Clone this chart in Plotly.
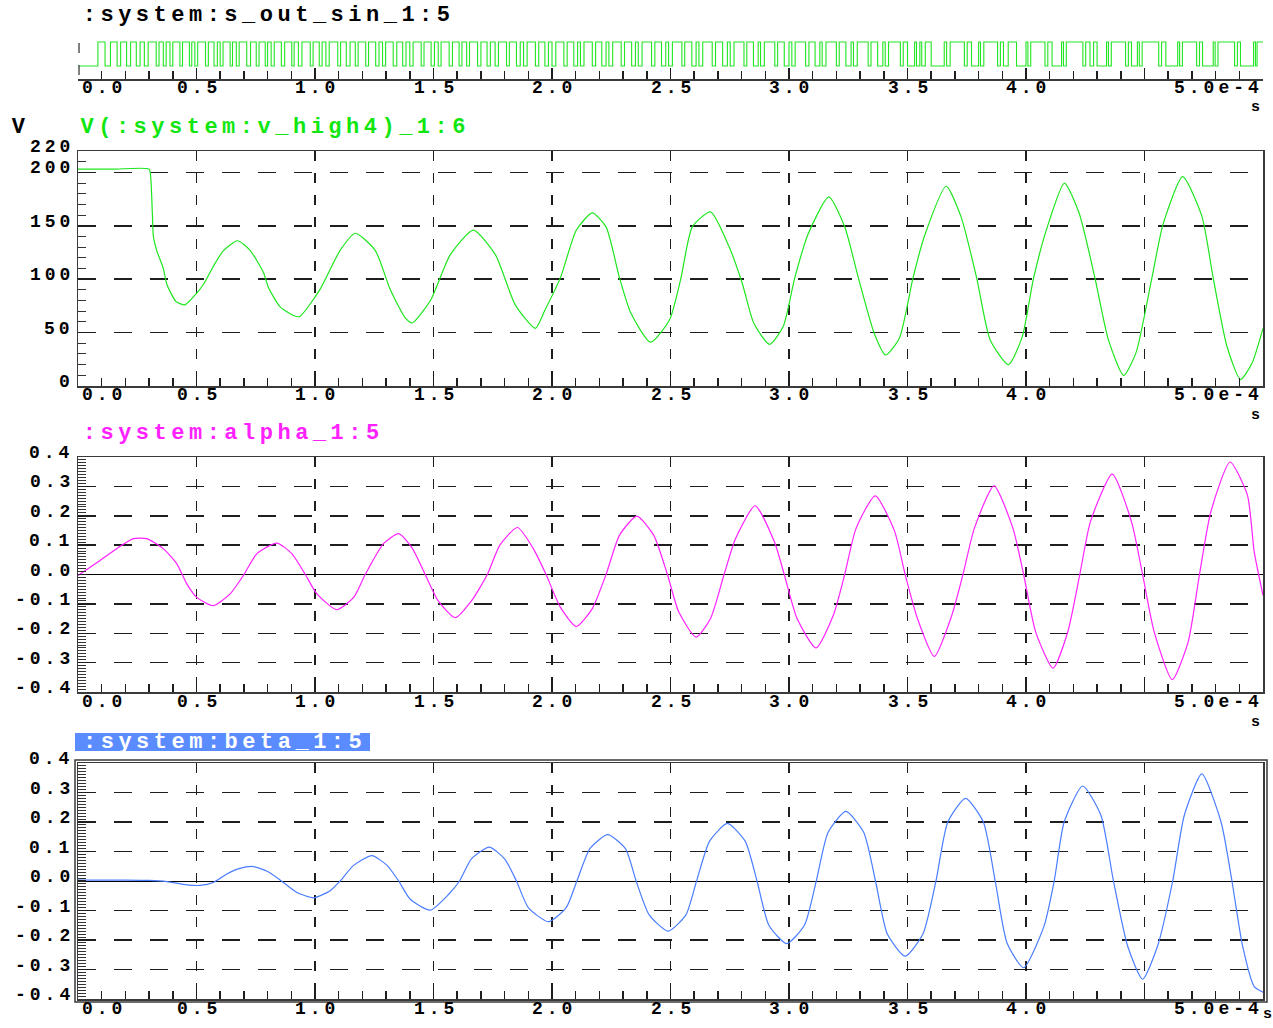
import plotly.graph_objects as go

# ---------------- data (time in units of 1e-4 s) ----------------
# PWM switching signal: toggle instants, first is a rising edge
pwm_edges = [
    0.084, 0.114, 0.137, 0.165, 0.180, 0.205, 0.222, 0.246, 0.262, 0.280,
    0.296, 0.330, 0.342, 0.360, 0.372, 0.388, 0.400, 0.430, 0.441, 0.470,
    0.480, 0.493, 0.505, 0.538, 0.550, 0.574, 0.588, 0.600, 0.612, 0.642,
    0.652, 0.668, 0.680, 0.712, 0.728, 0.752, 0.764, 0.790, 0.800, 0.815,
    0.828, 0.858, 0.872, 0.902, 0.912, 0.930, 0.945, 0.980, 0.992, 1.018,
    1.030, 1.046, 1.060, 1.096, 1.108, 1.132, 1.148, 1.170, 1.182, 1.214,
    1.226, 1.256, 1.270, 1.285, 1.298, 1.330, 1.345, 1.370, 1.384, 1.400,
    1.414, 1.448, 1.460, 1.490, 1.504, 1.520, 1.532, 1.566, 1.580, 1.608,
    1.620, 1.640, 1.652, 1.686, 1.700, 1.726, 1.740, 1.760, 1.774, 1.808,
    1.820, 1.850, 1.866, 1.880, 1.895, 1.930, 1.944, 1.970, 1.985, 2.000,
    2.016, 2.050, 2.064, 2.092, 2.108, 2.120, 2.135, 2.170, 2.184, 2.210,
    2.228, 2.240, 2.256, 2.292, 2.306, 2.336, 2.352, 2.364, 2.380, 2.420,
    2.434, 2.462, 2.480, 2.492, 2.508, 2.548, 2.560, 2.590, 2.608, 2.620,
    2.636, 2.676, 2.690, 2.720, 2.740, 2.752, 2.768, 2.810, 2.822, 2.850,
    2.870, 2.880, 2.896, 2.940, 2.952, 2.980, 3.000, 3.012, 3.026, 3.070,
    3.084, 3.110, 3.130, 3.140, 3.156, 3.200, 3.212, 3.240, 3.262, 3.272,
    3.288, 3.334, 3.346, 3.374, 3.396, 3.406, 3.420, 3.470, 3.482, 3.500,
    3.530, 3.538, 3.552, 3.560, 3.575, 3.600, 3.655, 3.665, 3.680, 3.740,
    3.752, 3.770, 3.800, 3.808, 3.822, 3.880, 3.892, 3.905, 3.925, 3.960,
    4.000, 4.008, 4.020, 4.080, 4.092, 4.110, 4.150, 4.158, 4.170, 4.240,
    4.252, 4.270, 4.285, 4.300, 4.340, 4.348, 4.360, 4.420, 4.432, 4.445,
    4.470, 4.478, 4.490, 4.560, 4.572, 4.590, 4.640, 4.648, 4.660, 4.720,
    4.732, 4.745, 4.790, 4.798, 4.810, 4.880, 4.892, 4.905, 4.960, 4.968,
    4.975,
]

v_t = [0.0, 0.150, 0.300, 0.307, 0.314, 0.318, 0.332, 0.360, 0.375, 0.414,
       0.452, 0.501, 0.529, 0.571, 0.611, 0.673, 0.726, 0.783, 0.804, 0.853,
       0.909, 0.935, 1.020, 1.106, 1.170, 1.254, 1.318, 1.380, 1.410, 1.487,
       1.571, 1.668, 1.761, 1.845, 1.930, 1.970, 2.035, 2.103, 2.170, 2.228,
       2.285, 2.333, 2.416, 2.496, 2.544, 2.592, 2.669, 2.746, 2.803, 2.851,
       2.918, 2.976, 3.024, 3.082, 3.168, 3.235, 3.293, 3.360, 3.408, 3.466,
       3.523, 3.571, 3.663, 3.725, 3.792, 3.849, 3.926, 3.984, 4.032, 4.090,
       4.162, 4.224, 4.291, 4.348, 4.412, 4.464, 4.531, 4.579, 4.661, 4.742,
       4.790, 4.848, 4.905, 4.953, 5.000]
v_val = [203, 203, 203, 195, 160, 140, 127, 110, 95, 79,
         76, 87, 95, 112, 126, 136, 127, 106, 92, 74,
         66, 65, 90, 127, 143, 127, 90, 64, 59, 80,
         123, 146, 123, 76, 54, 71, 101, 146, 162, 149,
         101, 68, 41, 62, 101, 149, 163, 131, 96, 59,
         39, 56, 101, 143, 177, 149, 101, 49, 29, 45,
         101, 140, 187, 159, 101, 43, 20, 46, 101, 149,
         190, 162, 101, 43, 10, 31, 101, 152, 196, 159,
         101, 37, 6, 21, 54]

alpha_t = [0.0, 0.093, 0.163, 0.234, 0.290, 0.360, 0.417, 0.459, 0.501, 0.571,
           0.642, 0.698, 0.755, 0.839, 0.902, 0.959, 1.008, 1.092, 1.163, 1.212,
           1.289, 1.353, 1.410, 1.465, 1.520, 1.592, 1.660, 1.727, 1.780, 1.854,
           1.920, 1.975, 2.035, 2.103, 2.170, 2.228, 2.285, 2.358, 2.429, 2.487,
           2.535, 2.608, 2.669, 2.726, 2.775, 2.857, 2.938, 2.980, 3.034, 3.114,
           3.187, 3.235, 3.283, 3.364, 3.446, 3.490, 3.542, 3.613, 3.687, 3.734,
           3.782, 3.865, 3.945, 3.990, 4.041, 4.114, 4.176, 4.227, 4.272, 4.364,
           4.445, 4.492, 4.541, 4.617, 4.684, 4.732, 4.780, 4.861, 4.934, 4.963,
           5.000]
alpha_val = [-0.003, 0.048, 0.088, 0.122, 0.122, 0.088, 0.036, -0.032, -0.078, -0.106,
             -0.066, -0.003, 0.071, 0.107, 0.071, 0.000, -0.066, -0.120, -0.078, 0.000,
             0.105, 0.139, 0.090, 0.000, -0.090, -0.147, -0.090, 0.000, 0.100, 0.160,
             0.090, 0.000, -0.111, -0.177, -0.116, 0.000, 0.134, 0.199, 0.134, 0.000,
             -0.128, -0.213, -0.150, 0.000, 0.123, 0.234, 0.112, 0.000, -0.150, -0.250,
             -0.139, 0.000, 0.157, 0.268, 0.146, 0.000, -0.150, -0.279, -0.139, 0.000,
             0.157, 0.302, 0.157, 0.000, -0.196, -0.319, -0.196, 0.000, 0.180, 0.342,
             0.180, 0.000, -0.196, -0.358, -0.230, 0.000, 0.214, 0.383, 0.271, 0.077,
             -0.071]

beta_t = [0.0, 0.100, 0.200, 0.300, 0.375, 0.459, 0.515, 0.571, 0.628, 0.680,
          0.740, 0.800, 0.867, 0.924, 0.994, 1.064, 1.106, 1.163, 1.240, 1.304,
          1.353, 1.402, 1.486, 1.564, 1.610, 1.660, 1.735, 1.800, 1.850, 1.900,
          1.985, 2.060, 2.105, 2.160, 2.235, 2.310, 2.355, 2.410, 2.490, 2.565,
          2.610, 2.665, 2.740, 2.815, 2.865, 2.915, 2.990, 3.065, 3.115, 3.165,
          3.240, 3.315, 3.365, 3.415, 3.490, 3.565, 3.620, 3.670, 3.745, 3.820,
          3.870, 3.920, 3.990, 4.076, 4.119, 4.161, 4.239, 4.316, 4.369, 4.429,
          4.492, 4.555, 4.619, 4.668, 4.742, 4.823, 4.869, 4.914, 4.963, 5.000]
beta_val = [0.003, 0.003, 0.003, 0.002, -0.002, -0.013, -0.015, -0.005, 0.024, 0.042,
            0.049, 0.032, -0.005, -0.039, -0.057, -0.033, 0.000, 0.053, 0.086, 0.053,
            0.000, -0.062, -0.099, -0.045, 0.000, 0.075, 0.115, 0.075, 0.000, -0.090,
            -0.138, -0.090, 0.000, 0.110, 0.157, 0.110, 0.000, -0.115, -0.170, -0.115,
            0.000, 0.135, 0.195, 0.135, 0.000, -0.150, -0.212, -0.150, 0.000, 0.165,
            0.236, 0.165, 0.000, -0.180, -0.255, -0.180, 0.000, 0.200, 0.280, 0.200,
            0.000, -0.210, -0.294, -0.153, 0.000, 0.200, 0.322, 0.223, 0.000, -0.221,
            -0.333, -0.221, 0.000, 0.223, 0.363, 0.200, 0.000, -0.221, -0.358, -0.377]

x_major_ticks = [0.0, 0.5, 1.0, 1.5, 2.0, 2.5, 3.0, 3.5, 4.0, 4.5, 5.0]
x_label_vals = [0.5, 1.0, 1.5, 2.0, 2.5, 3.0, 3.5, 4.0]
x_label_text = ["0.5", "1.0", "1.5", "2.0", "2.5", "3.0", "3.5", "4.0"]
x_first_label = "0.0"
x_last_label = "5.0e-4"
x_unit = "s"
v_tick_vals = [0, 50, 100, 150, 200, 220]
v_tick_text = ["0", "50", "100", "150", "200", "220"]
ab_tick_vals = [-0.4, -0.3, -0.2, -0.1, 0.0, 0.1, 0.2, 0.3, 0.4]
ab_tick_text = ["-0.4", "-0.3", "-0.2", "-0.1", "0.0", "0.1", "0.2", "0.3", "0.4"]

titles = [":system:s_out_sin_1:5", "V(:system:v_high4)_1:6",
          ":system:alpha_1:5", ":system:beta_1:5"]
v_unit = "V"

# ---------------- layout helpers ----------------
W, H = 1273, 1028
def px(x):
    return x / W
def py(y):
    return 1 - y / H

FONT = "Liberation Mono, Courier New, monospace"
GRID = "#1e1e1e"
FRAME = "#3a3a3a"
c_pwm = "#22e622"
c_v = "#1ee61e"
c_alpha = "#ff22ff"
c_beta = "#4a7dff"

TICK_SIZE, TICK_SP = 18, 4.0        # font size, letter spacing (px)
TITLE_SIZE, TITLE_SP = 22, 4.5
UNIT_SIZE = 15                      # unit "s" below the axes, no extra spacing
def pitch(size, sp):
    return 0.6 * size + sp
def text_w(n, size, sp):
    return n * pitch(size, sp) - sp

fig = go.Figure()

# PWM trace (step)
pwm_x, pwm_y = [0.0], [0]
state = 0
for e in pwm_edges:
    state = 1 - state
    pwm_x.append(e)
    pwm_y.append(state)
pwm_x.append(5.0)
pwm_y.append(state)
fig.add_trace(go.Scatter(x=pwm_x, y=pwm_y, mode="lines", xaxis="x", yaxis="y",
                         line=dict(color=c_pwm, width=1.1, shape="hv"),
                         hoverinfo="skip"))
fig.add_trace(go.Scatter(x=v_t, y=v_val, mode="lines", xaxis="x2", yaxis="y2",
                         line=dict(color=c_v, width=1.2, shape="spline", smoothing=0.6),
                         hoverinfo="skip"))
fig.add_trace(go.Scatter(x=alpha_t, y=alpha_val, mode="lines", xaxis="x3", yaxis="y3",
                         line=dict(color=c_alpha, width=1.2, shape="spline", smoothing=0.6),
                         hoverinfo="skip"))
fig.add_trace(go.Scatter(x=beta_t, y=beta_val, mode="lines", xaxis="x4", yaxis="y4",
                         line=dict(color=c_beta, width=1.2, shape="spline", smoothing=0.6),
                         hoverinfo="skip"))

tickfont = dict(family=FONT, size=TICK_SIZE, color="black", weight="bold")
unitfont = dict(family=FONT, size=UNIT_SIZE, color="black", weight="bold")

def xaxis(anchor, top_panel=False):
    d = dict(anchor=anchor, domain=[px(78), px(1263)], range=[0, 5.0],
             tickmode="array", tickvals=x_major_ticks, showticklabels=False,
             ticks="inside", ticklen=11, tickwidth=1.5,
             tickcolor=GRID, showline=True, linewidth=1.5, linecolor=FRAME,
             zeroline=False, fixedrange=True,
             minor=dict(dtick=0.1, tick0=0, ticks="inside", ticklen=8,
                        tickwidth=1.5, tickcolor=GRID, showgrid=False))
    if top_panel:
        d.update(showgrid=False, mirror=False, linewidth=2)
    else:
        d.update(showgrid=True, gridcolor=GRID, gridwidth=1.5,
                 griddash="10px,12px", mirror=True)
    return d

def yaxis(anchor, dom, rng, vals, minor_dtick, zero):
    return dict(anchor=anchor, domain=dom, range=rng, tickmode="array",
                tickvals=vals, showticklabels=False,
                ticks="inside", ticklen=8, tickwidth=1.5, tickcolor=GRID,
                showline=True, mirror=True, linewidth=1.5, linecolor=FRAME,
                showgrid=True, gridcolor=GRID, gridwidth=1.5, griddash="18px,18px",
                zeroline=zero, zerolinecolor="black", zerolinewidth=1,
                fixedrange=True,
                minor=dict(dtick=minor_dtick, tick0=0, ticks="inside", ticklen=8,
                           tickwidth=1, tickcolor="#333", showgrid=False))

fig.update_layout(
    width=W, height=H, margin=dict(l=0, r=0, t=0, b=0, pad=0),
    paper_bgcolor="white", plot_bgcolor="white", showlegend=False,
    hovermode=False,
    xaxis=xaxis("y", top_panel=True),
    yaxis=dict(anchor="x", domain=[py(79), py(38)], range=[-0.5417, 1.1667],
               showgrid=False, zeroline=False, showticklabels=False,
               showline=False, ticks="", fixedrange=True),
    xaxis2=xaxis("y2"),
    yaxis2=yaxis("x2", [py(386), py(151)], [0, 220], v_tick_vals, 10, False),
    xaxis3=xaxis("y3"),
    yaxis3=yaxis("x3", [py(692), py(457)], [-0.4, 0.4], ab_tick_vals, 0.01, True),
    xaxis4=xaxis("y4"),
    yaxis4=yaxis("x4", [py(999), py(763)], [-0.4, 0.4], ab_tick_vals, 0.01, True),
)

# selection frame around last panel and title highlight box
fig.add_shape(type="rect", xref="paper", yref="paper",
              x0=px(75), x1=px(1267), y0=py(1002), y1=py(760),
              line=dict(color=FRAME, width=1.5), fillcolor="rgba(0,0,0,0)", layer="above")
fig.add_shape(type="rect", xref="paper", yref="paper",
              x0=px(75), x1=px(370), y0=py(751), y1=py(733),
              line=dict(width=0), fillcolor="#5b8cff", layer="below")
# short marks on the left edge of the switching-signal strip
for y_lo, y_hi in [(43, 53), (65, 75)]:
    fig.add_shape(type="line", xref="paper", yref="paper",
                  x0=px(79), x1=px(79), y0=py(y_hi), y1=py(y_lo),
                  line=dict(color="#555", width=1.5))

ann = []
def add_text(txt, cx_px, cy_px, font, sp):
    # cx_px: visual centre; compensate the trailing letter spacing
    ann.append(dict(text=txt, x=px(cx_px + sp / 2), y=py(cy_px), xref="paper", yref="paper",
                    xanchor="center", yanchor="middle", showarrow=False, font=font))

titlefont = dict(family=FONT, size=TITLE_SIZE, weight="bold")
title_specs = [(83, 16, "black"), (80, 127, "#11e611"), (83, 433, "#ff22ff"), (83, 742, "white")]
for txt, (left, cy, col) in zip(titles, title_specs):
    cx = left + text_w(len(txt), TITLE_SIZE, TITLE_SP) / 2
    add_text(txt, cx, cy, dict(titlefont, color=col), TITLE_SP)
add_text(v_unit, 18.5, 127, dict(titlefont, color="black"), TITLE_SP)

# x-axis labels (below each panel)
panels = [("x", 88, 1255, 108), ("x2", 395, 1255, 415), ("x3", 702, 1255, 722),
          ("x4", 1009, 1267, 1014)]
for xref, ylab, xunit, yunit in panels:
    for v, t in zip(x_label_vals, x_label_text):
        ann.append(dict(text=t, x=v, y=py(ylab), xref=xref, yref="paper",
                        xshift=TICK_SP / 2, xanchor="center", yanchor="middle",
                        showarrow=False, font=tickfont))
    add_text(x_first_label, 82 + text_w(len(x_first_label), TICK_SIZE, TICK_SP) / 2,
             ylab, tickfont, TICK_SP)
    add_text(x_last_label, 1259 - text_w(len(x_last_label), TICK_SIZE, TICK_SP) / 2,
             ylab, tickfont, TICK_SP)
    add_text(x_unit, xunit, yunit, unitfont, 0)

# y-axis labels (right aligned at x = 70, sitting ~4px above the tick)
for yref, vals, texts in [("y2", v_tick_vals, v_tick_text),
                          ("y3", ab_tick_vals, ab_tick_text),
                          ("y4", ab_tick_vals, ab_tick_text)]:
    for v, t in zip(vals, texts):
        w = text_w(len(t), TICK_SIZE, TICK_SP)
        cx = 70 - w / 2
        ann.append(dict(text=t, x=px(cx + TICK_SP / 2), y=v, xref="paper", yref=yref,
                        yshift=4, xanchor="center", yanchor="middle",
                        showarrow=False, font=tickfont))

fig.update_layout(annotations=ann)

post = """
var st = document.createElement('style');
st.innerHTML = 'html,body{margin:0;padding:0;overflow:hidden;}'
 + ' .main-svg text{letter-spacing:%spx;}'
 + ' .main-svg text[style*="font-size: %dpx"]{letter-spacing:%spx;}'
 + ' .main-svg text[style*="font-size: %dpx"]{letter-spacing:0px;}';
document.head.appendChild(st);
""" % (TICK_SP, TITLE_SIZE, TITLE_SP, UNIT_SIZE)
fig.write_html("out.html", config={"displayModeBar": False, "staticPlot": True},
               post_script=post)
